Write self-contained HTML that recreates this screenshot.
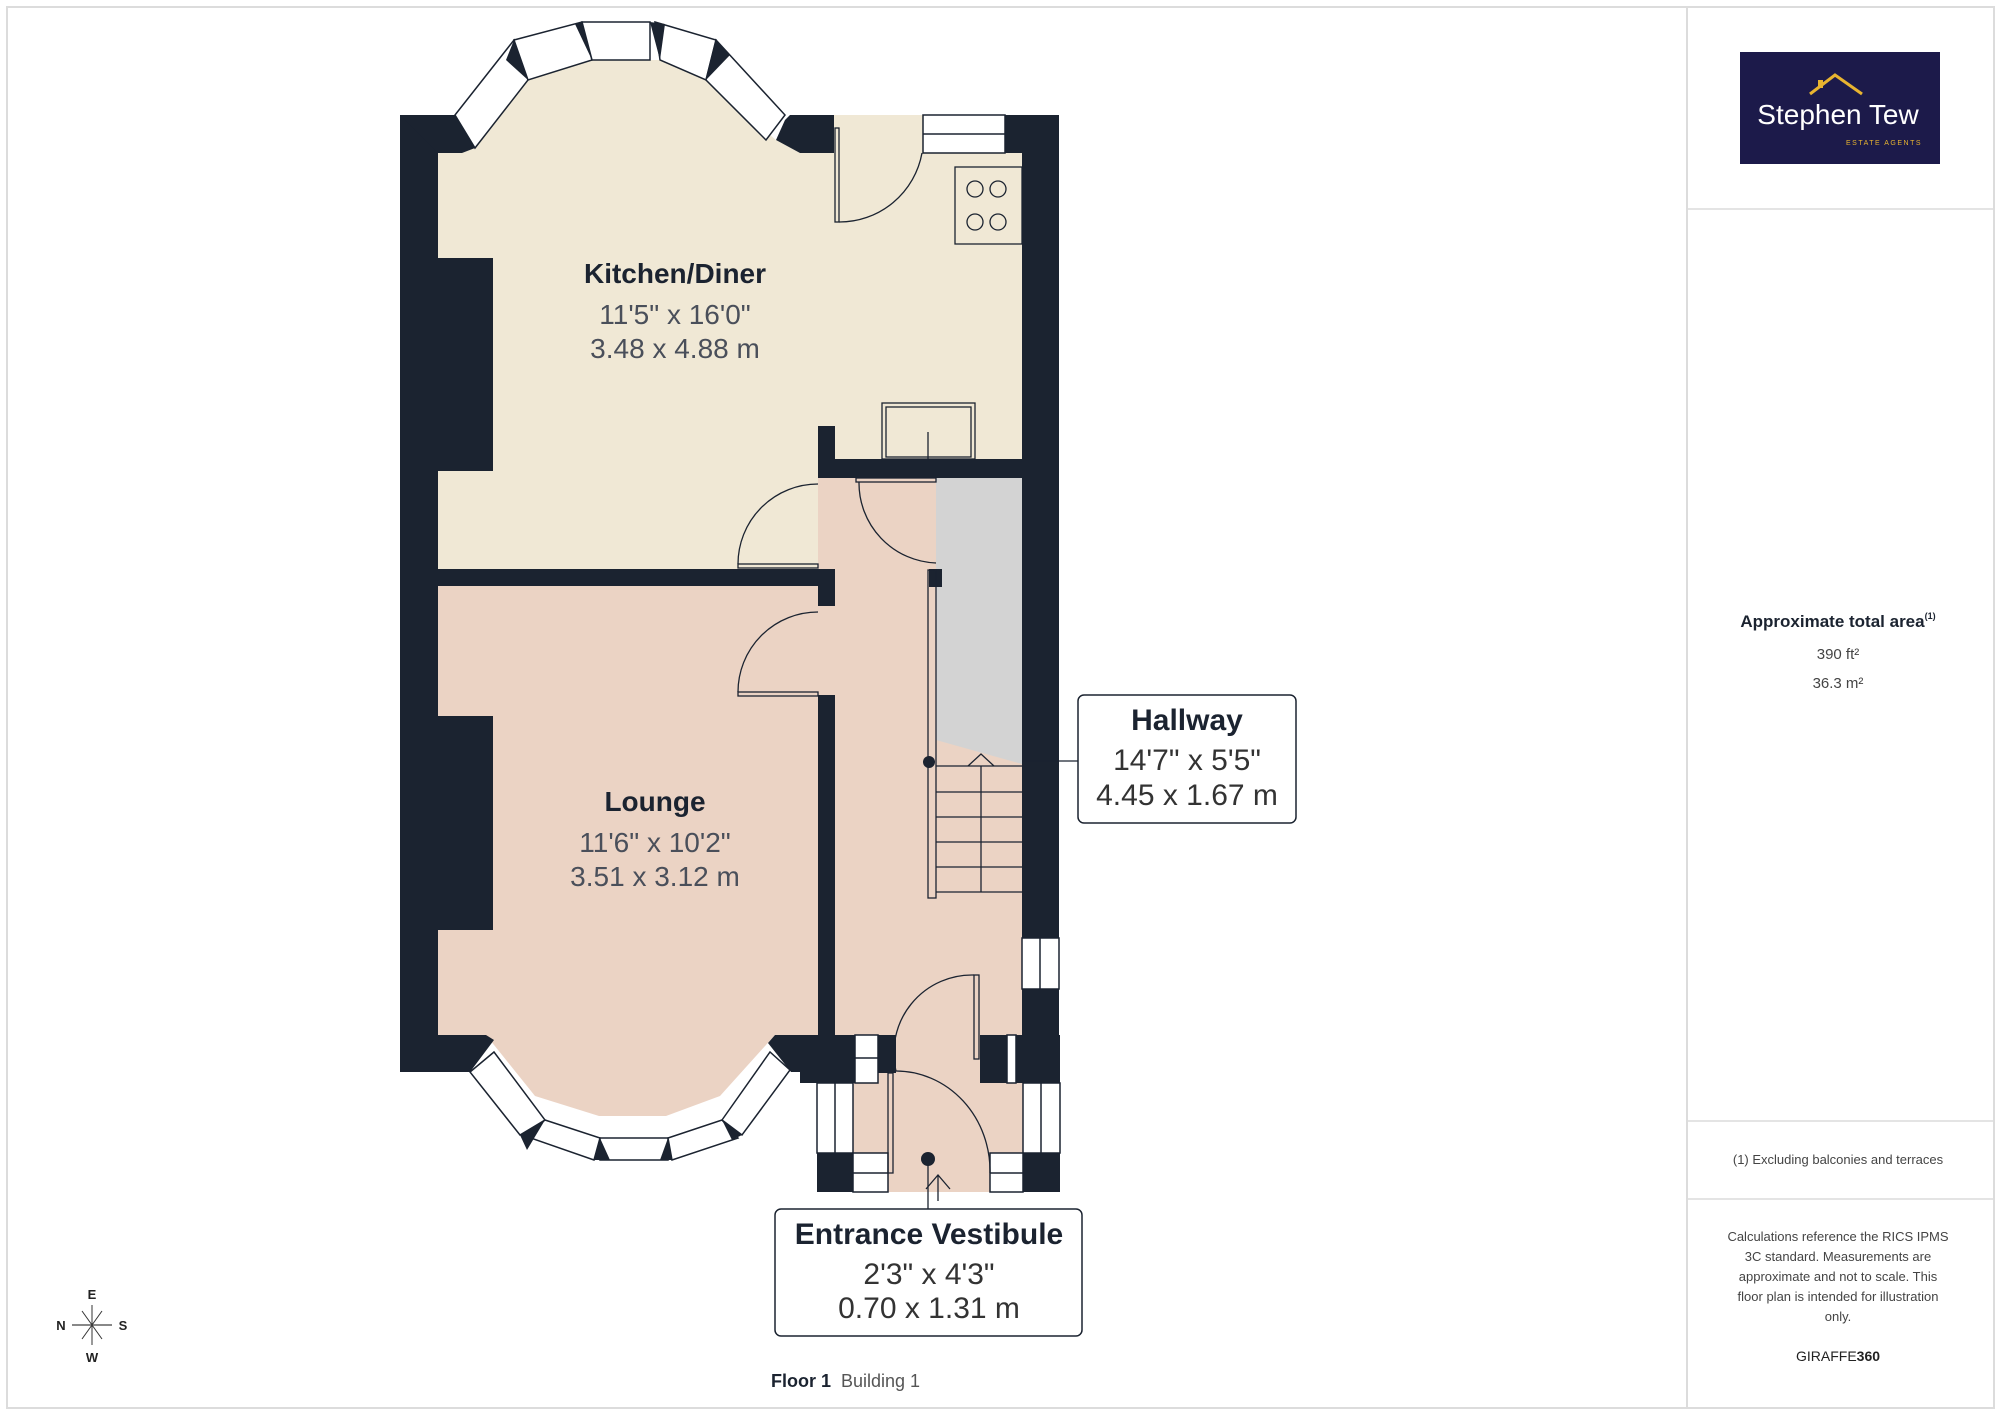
<!DOCTYPE html>
<html><head><meta charset="utf-8"><style>
html,body{margin:0;padding:0;background:#fff;}
body{width:2000px;height:1415px;position:relative;overflow:hidden;font-family:"Liberation Sans",sans-serif;}
svg{position:absolute;left:0;top:0;}
</style></head><body>
<svg width="2000" height="1415" viewBox="0 0 2000 1415" xmlns="http://www.w3.org/2000/svg">
<rect x="7" y="7" width="1987" height="1401" fill="none" stroke="#dcdcdc" stroke-width="2"/>
<line x1="1687" y1="7" x2="1687" y2="1408" stroke="#dcdcdc" stroke-width="2"/>
<line x1="1687" y1="209" x2="1994" y2="209" stroke="#dcdcdc" stroke-width="1.5"/>
<line x1="1687" y1="1121" x2="1994" y2="1121" stroke="#dcdcdc" stroke-width="1.5"/>
<line x1="1687" y1="1199" x2="1994" y2="1199" stroke="#dcdcdc" stroke-width="1.5"/>

<rect x="438" y="153" width="584" height="416" fill="#f0e8d5"/>
<polygon points="462,153 528,80 592,60 660,60 706,80 776,140 800,153" fill="#f0e8d5"/>
<rect x="834" y="115" width="90" height="40" fill="#f0e8d5"/>
<rect x="438" y="586" width="380" height="449" fill="#ebd3c4"/>
<polygon points="486,1035 535,1096 599,1116 666,1116 720,1096 775,1035" fill="#ebd3c4"/>
<rect x="818" y="478" width="204" height="600" fill="#ebd3c4"/>
<rect x="853" y="1035" width="170" height="157" fill="#ebd3c4"/>
<polygon points="936,478 1022,478 1022,764 936,740" fill="#d3d3d3"/>

<g fill="#1b2330">
<rect x="400" y="115" width="38" height="957"/>
<polygon points="400,115 455,115 475,148 462,153 438,153"/>
<polygon points="790,115 834,115 834,153 800,153 776,140 785,120"/>
<rect x="1005" y="115" width="54" height="38"/>
<rect x="1022" y="115" width="37" height="823"/>
<rect x="1022" y="989" width="37" height="46"/>
<rect x="438" y="258" width="55" height="213"/>
<rect x="438" y="716" width="55" height="214"/>
<rect x="438" y="569" width="397" height="17"/>
<rect x="818" y="426" width="17" height="52"/>
<rect x="835" y="459" width="187" height="19"/>
<rect x="818" y="586" width="17" height="20"/>
<rect x="818" y="695" width="17" height="377"/>
<rect x="929" y="569" width="13" height="18"/>
<polygon points="400,1035 486,1035 494,1040 470,1072 400,1072"/>
<polygon points="775,1035 818,1035 818,1072 791,1072 768,1043"/>
<rect x="800" y="1035" width="55" height="48"/>
<rect x="878" y="1035" width="18" height="38"/>
<rect x="817" y="1153" width="36" height="39"/>
<rect x="980" y="1035" width="80" height="48"/>
<rect x="1023" y="1153" width="37" height="39"/>
</g>
<g fill="#fff" stroke="#1b2330" stroke-width="1.5">
<rect x="923" y="115" width="82" height="38"/><line x1="923" y1="134" x2="1005" y2="134"/>
<rect x="1022" y="938" width="37" height="51"/><line x1="1040" y1="938" x2="1040" y2="989"/>
<rect x="855" y="1035" width="23" height="48"/><line x1="855" y1="1058" x2="878" y2="1058"/>
<rect x="817" y="1083" width="36" height="70"/><line x1="835" y1="1083" x2="835" y2="1153"/>
<rect x="853" y="1153" width="35" height="39"/><line x1="853" y1="1173" x2="888" y2="1173"/>
<rect x="1023" y="1083" width="37" height="70"/><line x1="1041" y1="1083" x2="1041" y2="1153"/>
<rect x="990" y="1153" width="33" height="39"/><line x1="990" y1="1173" x2="1023" y2="1173"/>
<rect x="1007" y="1035" width="9" height="48"/>
<polygon points="455,115 514,40 528,80 475,148"/>
<polygon points="514,40 582,22 592,60 528,80"/>
<polygon points="582,22 650,22 650,60 592,60"/>
<polygon points="655,22 716,40 706,80 660,60"/>
<polygon points="716,40 785,115 766,140 706,80"/>
<polygon points="470,1072 494,1052 545,1120 520,1135"/>
<polygon points="525,1136 545,1120 600,1138 594,1160"/>
<polygon points="600,1138 668,1138 668,1160 600,1160"/>
<polygon points="668,1138 722,1120 738,1138 672,1160"/>
<polygon points="722,1120 770,1052 790,1070 742,1135"/>
</g>
<g fill="#1b2330">
<polygon points="514,40 528,80 506,60"/><polygon points="582,22 592,60 575,24"/>
<polygon points="650,22 660,60 665,24"/><polygon points="716,40 706,80 730,55"/>
<polygon points="520,1135 545,1120 527,1150"/><polygon points="600,1138 594,1160 610,1160"/>
<polygon points="668,1138 672,1160 660,1160"/><polygon points="722,1120 742,1135 732,1140"/>
</g>
<g fill="none" stroke="#1b2330" stroke-width="1.3">
<rect x="955" y="167" width="67" height="77" fill="#f0e8d5"/>
<circle cx="975" cy="189" r="8"/><circle cx="998" cy="189" r="8"/>
<circle cx="975" cy="222" r="8"/><circle cx="998" cy="222" r="8"/>
<rect x="882" y="403" width="93" height="56"/><rect x="886" y="407" width="85" height="50"/>
<line x1="928" y1="432" x2="928" y2="459"/>
<rect x="835" y="128" width="4" height="94"/>
<path d="M839,222 A84,84 0 0 0 922,153"/>
<rect x="738" y="564" width="80" height="4"/>
<path d="M738,564 A80,80 0 0 1 818,484"/>
<rect x="856" y="478" width="80" height="4"/>
<path d="M859,482 A80,80 0 0 0 936,563"/>
<rect x="738" y="692" width="80" height="4"/>
<path d="M738,692 A80,80 0 0 1 818,612"/>
<rect x="974" y="975" width="5" height="84"/>
<path d="M896,1071 A78,78 0 0 1 974,975"/>
<rect x="888" y="1073" width="5" height="100"/>
<path d="M896,1071 A94,100 0 0 1 990,1173"/>
<rect x="928" y="570" width="8" height="328"/>
<line x1="936" y1="766" x2="1022" y2="766"/><line x1="936" y1="792" x2="1022" y2="792"/>
<line x1="936" y1="817" x2="1022" y2="817"/><line x1="936" y1="842" x2="1022" y2="842"/>
<line x1="936" y1="867" x2="1022" y2="867"/><line x1="936" y1="892" x2="1022" y2="892"/>
<line x1="981" y1="766" x2="981" y2="892"/>
<polyline points="968,766 981,754 994,766"/>
<line x1="1022" y1="761" x2="1078" y2="761"/>
<line x1="928" y1="1159" x2="928" y2="1209"/>
<line x1="938" y1="1201" x2="938" y2="1175"/><polyline points="926,1189 938,1175 950,1189"/>
</g>
<circle cx="929" cy="762" r="6" fill="#1b2330"/>
<circle cx="928" cy="1159" r="7" fill="#1b2330"/>
<g font-family="Liberation Sans, sans-serif" text-anchor="middle">
<text x="675" y="283" font-size="28" font-weight="bold" fill="#1b2330">Kitchen/Diner</text>
<text x="675" y="324" font-size="28" fill="#4a4f5a">11'5" x 16'0"</text>
<text x="675" y="358" font-size="28" fill="#4a4f5a">3.48 x 4.88 m</text>
<text x="655" y="811" font-size="28" font-weight="bold" fill="#1b2330">Lounge</text>
<text x="655" y="852" font-size="28" fill="#4a4f5a">11'6" x 10'2"</text>
<text x="655" y="886" font-size="28" fill="#4a4f5a">3.51 x 3.12 m</text>
</g>
<rect x="1078" y="695" width="218" height="128" rx="6" fill="#fff" stroke="#1b2330" stroke-width="1.5"/>
<rect x="775" y="1209" width="307" height="127" rx="6" fill="#fff" stroke="#1b2330" stroke-width="1.5"/>
<g font-family="Liberation Sans, sans-serif" text-anchor="middle">
<text x="1187" y="730" font-size="30" font-weight="bold" fill="#1b2330">Hallway</text>
<text x="1187" y="770" font-size="30" fill="#333">14'7" x 5'5"</text>
<text x="1187" y="805" font-size="30" fill="#333">4.45 x 1.67 m</text>
<text x="929" y="1244" font-size="30" font-weight="bold" fill="#1b2330">Entrance Vestibule</text>
<text x="929" y="1284" font-size="30" fill="#333">2'3" x 4'3"</text>
<text x="929" y="1318" font-size="30" fill="#333">0.70 x 1.31 m</text>
<text x="771" y="1387" font-size="18" text-anchor="start" font-weight="bold" fill="#1b2330">Floor 1</text>
<text x="841" y="1387" font-size="18" text-anchor="start" fill="#555">Building 1</text>
</g>
<g stroke="#333" stroke-width="1">
<line x1="72" y1="1325" x2="112" y2="1325" stroke="#888" stroke-width="2"/>
<line x1="92" y1="1305" x2="92" y2="1345"/>
<line x1="82" y1="1311" x2="102" y2="1339"/><line x1="102" y1="1311" x2="82" y2="1339"/>
</g>
<g font-family="Liberation Sans, sans-serif" font-size="13" font-weight="bold" fill="#222" text-anchor="middle">
<text x="92" y="1299">E</text><text x="92" y="1362">W</text><text x="61" y="1330">N</text><text x="123" y="1330">S</text>
</g>
<rect x="1740" y="52" width="200" height="112" fill="#1c1a4a"/>
<polyline points="1810,94 1835,75 1862,94" fill="none" stroke="#e8b430" stroke-width="3"/>
<rect x="1818" y="80" width="5" height="8" fill="#e8b430"/>
<text x="1838" y="124" font-family="Liberation Sans, sans-serif" font-size="28" fill="#fff" text-anchor="middle">Stephen Tew</text>
<text x="1884" y="145" font-family="Liberation Sans, sans-serif" font-size="7" fill="#e8b430" text-anchor="middle" letter-spacing="1.5">ESTATE AGENTS</text>
<g font-family="Liberation Sans, sans-serif" text-anchor="middle">
<text x="1838" y="627" font-size="17" font-weight="bold" fill="#1b2330">Approximate total area<tspan font-size="9" dy="-8">(1)</tspan></text>
<text x="1838" y="659" font-size="15" fill="#444">390 ft²</text>
<text x="1838" y="688" font-size="15" fill="#444">36.3 m²</text>
<text x="1838" y="1164" font-size="13" fill="#444">(1) Excluding balconies and terraces</text>
<text x="1838" y="1241" font-size="13" fill="#444">Calculations reference the RICS IPMS</text>
<text x="1838" y="1261" font-size="13" fill="#444">3C standard. Measurements are</text>
<text x="1838" y="1281" font-size="13" fill="#444">approximate and not to scale. This</text>
<text x="1838" y="1301" font-size="13" fill="#444">floor plan is intended for illustration</text>
<text x="1838" y="1321" font-size="13" fill="#444">only.</text>
<text x="1838" y="1361" font-size="14" fill="#222">GIRAFFE<tspan font-weight="bold">360</tspan></text>
</g>
</svg>
</body></html>
